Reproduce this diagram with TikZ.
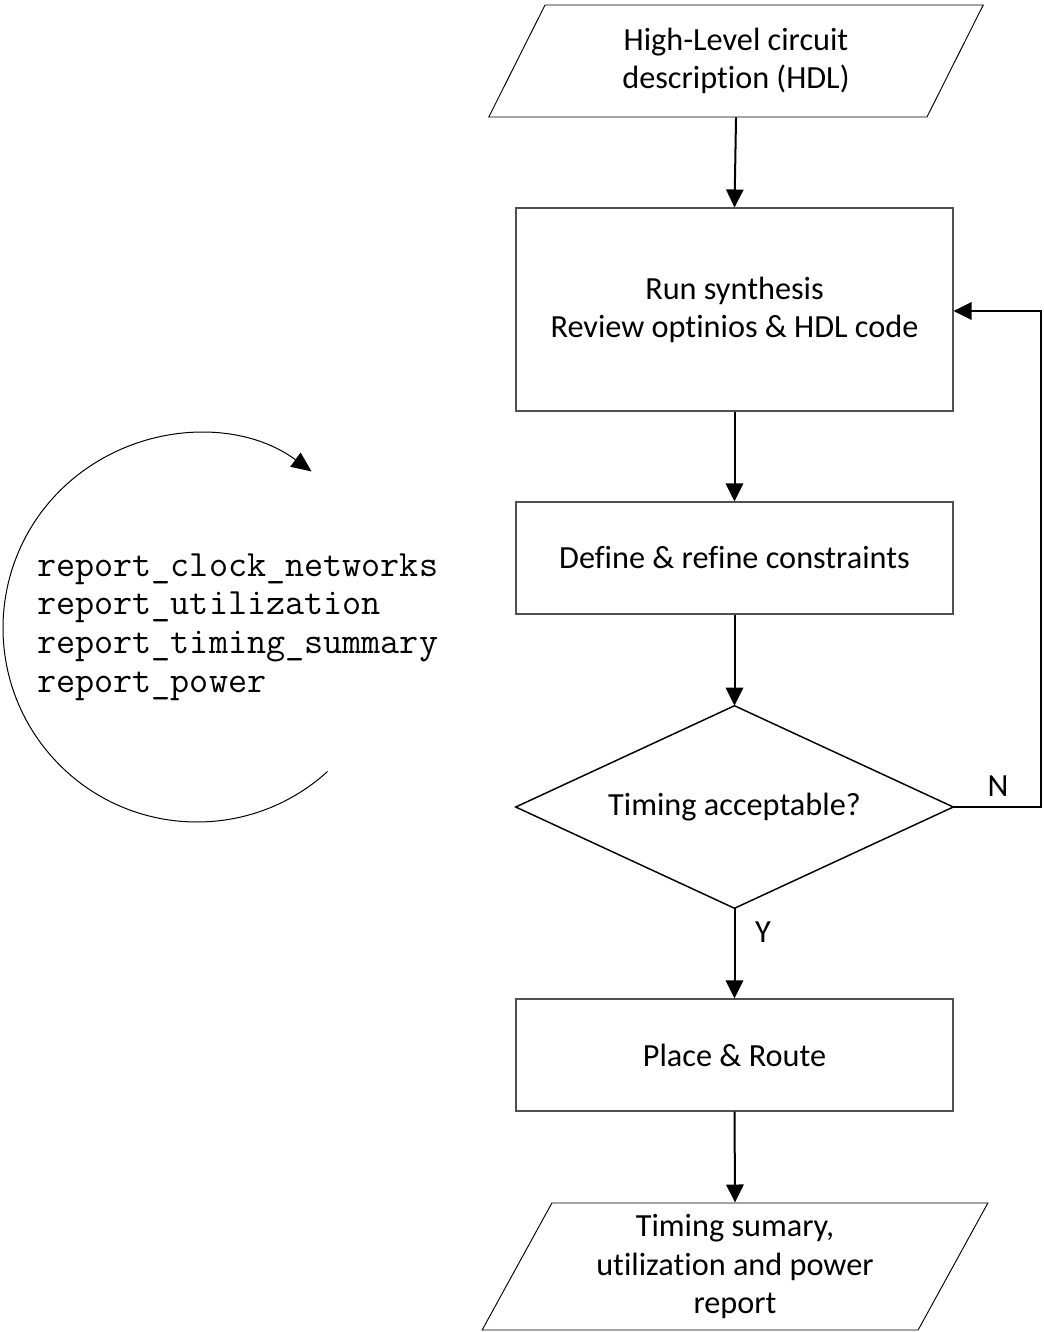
\documentclass[tikz,border=0pt]{standalone}
\usepackage{fontspec}
\setmainfont{Carlito}[Ligatures={NoCommon}]
\usetikzlibrary{shapes.geometric,arrows.meta}
\definecolor{boxgray}{HTML}{505050}
\begin{document}
\begin{tikzpicture}[x=0.75pt,y=0.75pt,
  txt/.style={font=\fontsize{24.2}{28.6}\selectfont, align=center, text=black},
  procbox/.style={txt, draw=boxgray, line width=0.8pt, minimum width=327.75pt, inner sep=0pt},
  iobox/.style={txt, draw=black, line width=0.7pt, trapezium, trapezium stretches=true,
     trapezium left angle=63, trapezium right angle=117, inner sep=0pt},
  decbox/.style={txt, rectangle, minimum width=327.75pt, minimum height=151.5pt, inner sep=0pt},
  decline/.style={draw=black, line width=1.1pt, line join=miter},
  conn/.style={draw=black, line width=1.5pt, -{Triangle[length=13.5pt,width=13pt]}},
  lbl/.style={font=\fontsize{24.2}{28.6}\selectfont, text=black, inner sep=0pt}
]
\useasboundingbox (0,0) rectangle (1044,-1332);

\node[iobox, minimum width=372pt, minimum height=84pt] (hdl) at (736,-61) {High-Level circuit\\description (HDL)};
\node[procbox, minimum height=152.25pt] (synth) at (734.5,-309.5) {Run synthesis\\Review optinios \& HDL code};
\node[procbox, minimum height=84pt] (constr) at (734.5,-558) {Define \& refine constraints};
\node[decbox] (timing) at (734.5,-807) {Timing acceptable?};
\draw[decline] (timing.north) -- (timing.east) -- (timing.south) -- (timing.west) -- cycle;
\node[procbox, minimum height=84pt] (pnr) at (734.5,-1055) {Place \& Route};
\node[iobox, minimum width=379.5pt, minimum height=95.25pt] (rep) at (735,-1266.5) {Timing sumary,\\utilization and power\\report};

\draw[conn] (hdl.south) -- (synth.north);
\draw[conn] (synth.south) -- (constr.north);
\draw[conn] (constr.south) -- (timing.north);
\draw[conn] (timing.south) -- (pnr.north);
\draw[conn] (pnr.south) -- (rep.north);
\coordinate (nb) at (1041,-807);
\coordinate (nt) at (1041,-311);
\draw[conn] (timing.east) -- (nb) -- (nt) -- (synth.east |- nt);

\node[lbl] (nlab) at (998,-786) {N};
\node[lbl] (ylab) at (763,-932) {Y};

\node[anchor=west, inner sep=0pt, align=left, font=\ttfamily\fontsize{27.8}{28.9}\selectfont] (cmds) at (37,-627)
  {report\_clock\_networks\\report\_utilization\\report\_timing\_summary\\report\_power};

\draw[line width=0.75pt, -{Triangle[length=15pt,width=13pt]}]
  (197,-628) ++(-47.7:145.5pt) arc[start angle=-47.7, end angle=-306.2, radius=145.5pt];
\end{tikzpicture}
\end{document}
